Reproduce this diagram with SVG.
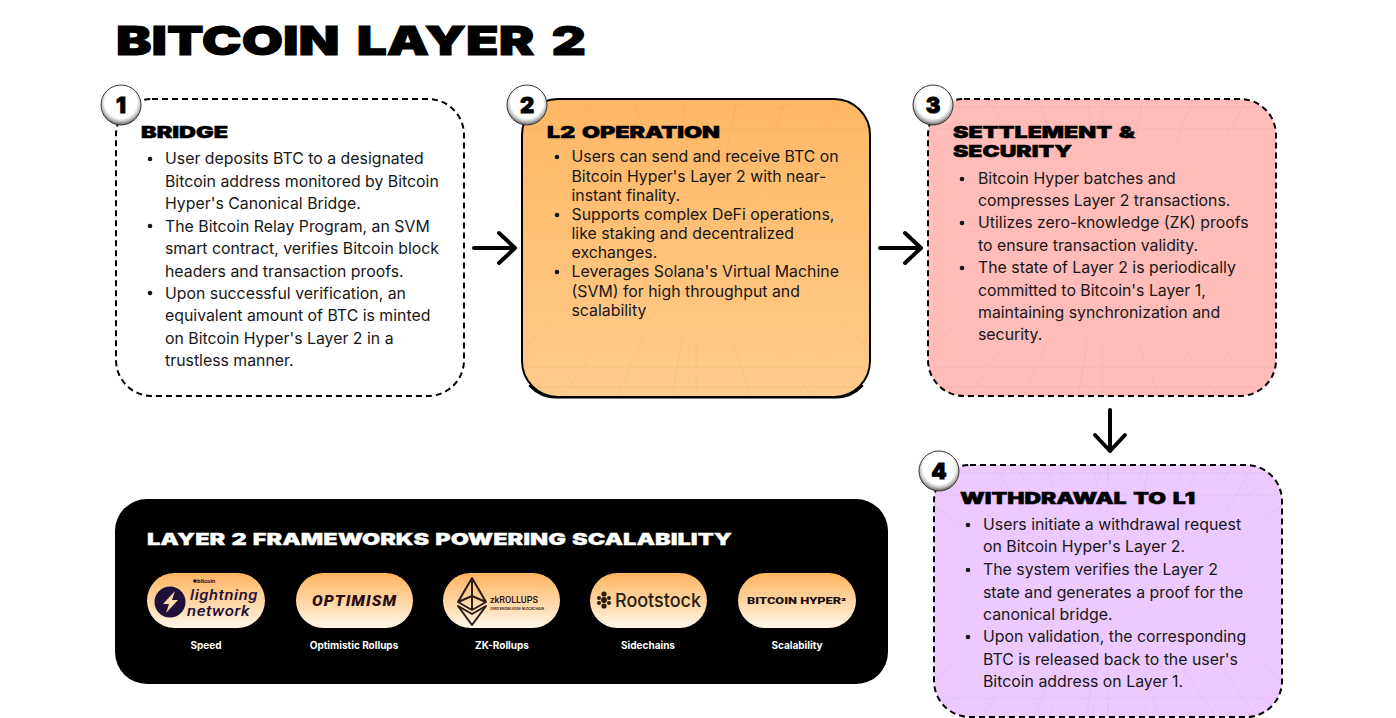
<svg xmlns="http://www.w3.org/2000/svg" xmlns:xlink="http://www.w3.org/1999/xlink" width="1396" height="718" viewBox="0 0 1396 718">
<style>
.body{font:400 15.85px Inter,"Liberation Sans",sans-serif;fill:#171717}
.head{font:900 16px Inter,"Liberation Sans",sans-serif;fill:#000;stroke:#000;stroke-width:.5;word-spacing:1.5px}
.title{font:900 40px Inter,"Liberation Sans",sans-serif;fill:#000;stroke:#000;stroke-width:1;word-spacing:5px}
.sub{font:900 16px Inter,"Liberation Sans",sans-serif;fill:#fff;stroke:#fff;stroke-width:.3;word-spacing:1px}
.cap{font:700 10px Inter,"Liberation Sans",sans-serif;fill:#fff;text-anchor:middle}
.num{font:900 22px Inter,"Liberation Sans",sans-serif;fill:#000;stroke:#000;stroke-width:.8;text-anchor:middle}
.card{stroke:#000;stroke-width:2;stroke-dasharray:6 4}
.grid{fill:none;stroke:#7a6a5a;stroke-opacity:.065;stroke-width:1}
.arrow{fill:none;stroke:#000;stroke-width:4;stroke-linecap:round;stroke-linejoin:round}
.ring{fill:url(#badge);stroke:#3a3a3a;stroke-width:1}
.pill{fill:url(#pillFill)}
.logo{font-family:Roboto,"Liberation Sans",sans-serif;fill:#2a0e10}
.dot{fill:#171717}
</style>
<defs>
<linearGradient id="orange" x1="0" y1="0" x2="0" y2="1"><stop offset="0" stop-color="#ffb865"/><stop offset="1" stop-color="#ffcb8c"/></linearGradient>
<linearGradient id="pillFill" x1="0" y1="0" x2="0" y2="1"><stop offset="0" stop-color="#ffb45f"/><stop offset=".55" stop-color="#ffd8a8"/><stop offset="1" stop-color="#fff6ea"/></linearGradient>
<radialGradient id="badge" cx=".5" cy=".43" r=".56"><stop offset="0" stop-color="#fff"/><stop offset=".72" stop-color="#fff"/><stop offset=".86" stop-color="#c4c4c4"/><stop offset="1" stop-color="#666"/></radialGradient>
<g id="gridlines" class="grid">
<path d="M0 30H348M0 8H348M0 268H348M0 288H348"/>
<path d="M60 0L90 50M110 0L130 50M160 0L166 50M174 0V50M215 0L205 50M265 0L245 50M320 0L290 50"/>
<path d="M0 40L40 70M348 40L308 70M0 75L20 95M348 75L328 95"/>
<path d="M40 298L80 240M95 298L120 240M150 298L160 240M174 298V240M230 298L210 240M290 298L250 240M330 298L290 240"/>
<path d="M0 250L30 225M348 250L318 225"/>
</g>
<clipPath id="c2"><rect x="522" y="99" width="348" height="298" rx="36"/></clipPath>
<clipPath id="c3"><rect x="928" y="99" width="348" height="297" rx="36"/></clipPath>
<clipPath id="c4"><rect x="934" y="465" width="348" height="252" rx="36"/></clipPath>
</defs>
<rect width="1396" height="718" fill="#fff"/>
<text id="title" class="title" x="116" y="55" textLength="470" lengthAdjust="spacingAndGlyphs">BITCOIN LAYER 2</text>

<g id="connectors">
<path class="arrow" d="M474 248H515M499 233L515 248L499 263"/>
<path class="arrow" d="M880 248H921M905 233L921 248L905 263"/>
<path class="arrow" d="M1110 410V451M1095 435L1110 451L1125 435"/>
</g>

<g id="node-1">
<rect class="card" x="116" y="99" width="348" height="297" rx="36" fill="#fff"/>
<circle class="ring" cx="121" cy="105" r="20"/><text class="num" x="121" y="113">1</text>
<text class="head" x="141" y="138" textLength="87" lengthAdjust="spacingAndGlyphs">BRIDGE</text>
<circle class="dot" cx="150" cy="159" r="2.3"/><circle class="dot" cx="150" cy="226" r="2.3"/><circle class="dot" cx="150" cy="293" r="2.3"/>
<text class="body"><tspan x="165" y="164">User deposits BTC to a designated</tspan><tspan x="165" y="186.5">Bitcoin address monitored by Bitcoin</tspan><tspan x="165" y="209">Hyper's Canonical Bridge.</tspan><tspan x="165" y="232">The Bitcoin Relay Program, an SVM</tspan><tspan x="165" y="254">smart contract, verifies Bitcoin block</tspan><tspan x="165" y="276.5">headers and transaction proofs.</tspan><tspan x="165" y="299">Upon successful verification, an</tspan><tspan x="165" y="321">equivalent amount of BTC is minted</tspan><tspan x="165" y="344">on Bitcoin Hyper's Layer 2 in a</tspan><tspan x="165" y="366">trustless manner.</tspan></text>
</g>

<g id="node-2">
<rect x="522" y="99" width="348" height="298" rx="36" fill="url(#orange)"/>
<g clip-path="url(#c2)"><use xlink:href="#gridlines" href="#gridlines" x="522" y="99"/></g>
<rect x="522" y="99" width="348" height="298" rx="36" fill="none" stroke="#000" stroke-width="2"/>
<path d="M530 386A36 36 0 0 0 558 397.300H834A36 36 0 0 0 862 386" fill="none" stroke="#000" stroke-width="2.500" stroke-linecap="round"/>
<circle class="ring" cx="527" cy="105" r="20"/><text class="num" x="527" y="113">2</text>
<text class="head" x="547" y="138" textLength="173" lengthAdjust="spacingAndGlyphs">L2 OPERATION</text>
<circle class="dot" cx="557" cy="157" r="2.3"/><circle class="dot" cx="557" cy="215" r="2.3"/><circle class="dot" cx="557" cy="272" r="2.3"/>
<text class="body"><tspan x="571.5" y="162">Users can send and receive BTC on</tspan><tspan x="571.5" y="181.5">Bitcoin Hyper's Layer 2 with near-</tspan><tspan x="571.5" y="201">instant finality.</tspan><tspan x="571.5" y="220">Supports complex DeFi operations,</tspan><tspan x="571.5" y="239">like staking and decentralized</tspan><tspan x="571.5" y="258">exchanges.</tspan><tspan x="571.5" y="277">Leverages Solana's Virtual Machine</tspan><tspan x="571.5" y="296.5">(SVM) for high throughput and</tspan><tspan x="571.5" y="316">scalability</tspan></text>
</g>

<g id="node-3">
<rect x="928" y="99" width="348" height="297" rx="36" fill="#ffbcb8"/>
<g clip-path="url(#c3)"><use xlink:href="#gridlines" href="#gridlines" x="928" y="99"/></g>
<rect class="card" x="928" y="99" width="348" height="297" rx="36" fill="none"/>
<circle class="ring" cx="933" cy="105" r="20"/><text class="num" x="933" y="113">3</text>
<text class="head" x="953" y="138" textLength="182" lengthAdjust="spacingAndGlyphs">SETTLEMENT &amp;</text>
<text class="head" x="953" y="157" textLength="119" lengthAdjust="spacingAndGlyphs">SECURITY</text>
<circle class="dot" cx="962" cy="179" r="2.3"/><circle class="dot" cx="962" cy="223" r="2.3"/><circle class="dot" cx="962" cy="268" r="2.3"/>
<text class="body"><tspan x="978" y="184">Bitcoin Hyper batches and</tspan><tspan x="978" y="206">compresses Layer 2 transactions.</tspan><tspan x="978" y="228">Utilizes zero-knowledge (ZK) proofs</tspan><tspan x="978" y="251">to ensure transaction validity.</tspan><tspan x="978" y="273">The state of Layer 2 is periodically</tspan><tspan x="978" y="295.5">committed to Bitcoin's Layer 1,</tspan><tspan x="978" y="318">maintaining synchronization and</tspan><tspan x="978" y="340">security.</tspan></text>
</g>

<g id="node-4">
<rect x="934" y="465" width="348" height="252" rx="36" fill="#ecc9ff"/>
<g clip-path="url(#c4)"><use xlink:href="#gridlines" href="#gridlines" x="934" y="465"/><use xlink:href="#gridlines" href="#gridlines" x="934" y="430"/></g>
<rect class="card" x="934" y="465" width="348" height="252" rx="36" fill="none"/>
<circle class="ring" cx="939" cy="471" r="20"/><text class="num" x="939" y="479">4</text>
<text class="head" x="960" y="504" textLength="235" lengthAdjust="spacingAndGlyphs">WITHDRAWAL TO L1</text>
<circle class="dot" cx="968" cy="525" r="2.3"/><circle class="dot" cx="968" cy="570" r="2.3"/><circle class="dot" cx="968" cy="637" r="2.3"/>
<text class="body"><tspan x="983" y="530">Users initiate a withdrawal request</tspan><tspan x="983" y="552">on Bitcoin Hyper's Layer 2.</tspan><tspan x="983" y="575">The system verifies the Layer 2</tspan><tspan x="983" y="597.5">state and generates a proof for the</tspan><tspan x="983" y="620">canonical bridge.</tspan><tspan x="983" y="642">Upon validation, the corresponding</tspan><tspan x="983" y="665">BTC is released back to the user's</tspan><tspan x="983" y="687">Bitcoin address on Layer 1.</tspan></text>
</g>

<g id="frameworks">
<rect x="115" y="499" width="773" height="185" rx="32" fill="#000"/>
<text class="sub" x="147" y="545" textLength="585" lengthAdjust="spacingAndGlyphs">LAYER 2 FRAMEWORKS POWERING SCALABILITY</text>

<g id="fw-lightning">
<rect class="pill" x="147" y="573" width="118" height="55" rx="27.5"/>
<circle cx="170" cy="602" r="15.5" fill="#1e1038"/>
<path d="M175 591L163 604H169L166 613L178 600H172Z" fill="#ffd9a6"/>
<circle cx="195" cy="581" r="1.8" fill="#1e1038"/>
<text class="logo" x="197" y="583" font-size="6" font-weight="700" style="fill:#1e1038">bitcoin</text>
<text class="logo" x="190" y="599.500" font-size="15" font-style="italic" font-weight="500" style="fill:#1e1038;letter-spacing:.5px" textLength="68" lengthAdjust="spacingAndGlyphs">lightning</text>
<text class="logo" x="187" y="616" font-size="15" font-style="italic" font-weight="500" style="fill:#1e1038;letter-spacing:.5px" textLength="63" lengthAdjust="spacingAndGlyphs">network</text>
<text class="cap" x="206" y="649">Speed</text>
</g>

<g id="fw-optimism">
<rect class="pill" x="296" y="573" width="117" height="55" rx="27.5"/>
<text class="logo" x="312" y="606" font-size="15.5" font-weight="900" font-style="italic" style="letter-spacing:1px" textLength="85" lengthAdjust="spacingAndGlyphs">OPTIMISM</text>
<text class="cap" x="354" y="649">Optimistic Rollups</text>
</g>

<g id="fw-zk">
<rect class="pill" x="443" y="573" width="117" height="55" rx="27.5"/>
<path d="M472 578L458 602L472 610L486 602ZM472 578V610M458 602L472 596L486 602M458 606L472 625L486 606L472 614Z" fill="none" stroke="#2a1c14" stroke-width="2" stroke-linejoin="round"/>
<text class="logo" x="490" y="603" font-size="9.5" font-weight="500" textLength="48" lengthAdjust="spacingAndGlyphs">zkROLLUPS</text>
<text class="logo" x="490" y="610" font-size="3.5" font-weight="500" textLength="54" lengthAdjust="spacingAndGlyphs">ZERO KNOWLEDGE BLOCKCHAIN</text>
<text class="cap" x="502" y="649">ZK-Rollups</text>
</g>

<g id="fw-rootstock">
<rect class="pill" x="590" y="573" width="117" height="55" rx="27.5"/>
<g fill="#2a1c0e"><circle cx="604" cy="594" r="2.6"/><circle cx="599" cy="598" r="2"/><circle cx="609" cy="598" r="2"/><circle cx="604" cy="600" r="3"/><circle cx="599" cy="603" r="2"/><circle cx="609" cy="603" r="2"/><circle cx="604" cy="606" r="2.6"/></g>
<text class="logo" x="615" y="607" font-size="19" font-weight="500" textLength="86" lengthAdjust="spacingAndGlyphs" style="font-family:Inter,'Liberation Sans',sans-serif;fill:#2a1c0e">Rootstock</text>
<text class="cap" x="648" y="649">Sidechains</text>
</g>

<g id="fw-hyper">
<rect class="pill" x="738" y="573" width="118" height="55" rx="27.5"/>
<text class="logo" x="747" y="603.500" font-size="9" font-weight="900" textLength="99" lengthAdjust="spacingAndGlyphs" style="fill:#1a1008">BITCOIN HYPER²</text>
<text class="cap" x="797" y="649">Scalability</text>
</g>
</g>
</svg>
